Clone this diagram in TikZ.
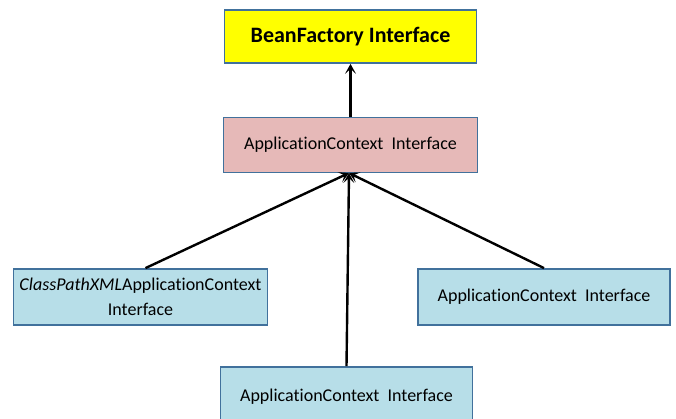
\documentclass[tikz,border=0pt]{standalone}
\usepackage{fontspec}
\setmainfont{Carlito}[Ligatures={NoCommon}]
\usetikzlibrary{arrows.meta}
\definecolor{bordc}{HTML}{41719C}
\definecolor{pinkf}{HTML}{E6B9B8}
\definecolor{bluef}{HTML}{B7DEE8}
\definecolor{yelf}{HTML}{FFFF00}
\tikzset{
  box/.style={draw=bordc, line width=1.8pt, minimum width=252pt, minimum height=54pt, inner sep=2pt, align=center, font=\fontsize{18}{25}\selectfont},
  conn/.style={draw=black, line width=2.4pt, -{Stealth[length=10pt,width=11pt,inset=5pt]}},
}
\begin{document}
\begin{tikzpicture}[x=1pt,y=-1pt]
\useasboundingbox (0,0) rectangle (676,419);
\node[box, fill=yelf, minimum height=53pt, font=\fontsize{22}{26}\selectfont\bfseries] (bf) at (350.5,36.5) {BeanFactory Interface};
\node[box, fill=pinkf, minimum width=254pt, minimum height=55pt] (ac) at (350.5,145) {ApplicationContext~ Interface};
\node[box, fill=bluef, minimum width=254pt, minimum height=56pt] (cp) at (140.5,297) {\textit{ClassPathXML}ApplicationContext\\Interface};
\node[box, fill=bluef, minimum height=56pt] (rt) at (544,297) {ApplicationContext~ Interface};
\node[box, fill=bluef, minimum height=60pt] (bt) at (346.5,397) {ApplicationContext~ Interface};
\coordinate (tip) at (349,173);
\draw[conn] (ac.north) -- (bf.south);
\draw[conn] (cp.north) ++(5,0) -- (tip);
\draw[conn] (rt.north) -- (tip);
\draw[conn] (bt.north) -- (tip);
\end{tikzpicture}
\end{document}
